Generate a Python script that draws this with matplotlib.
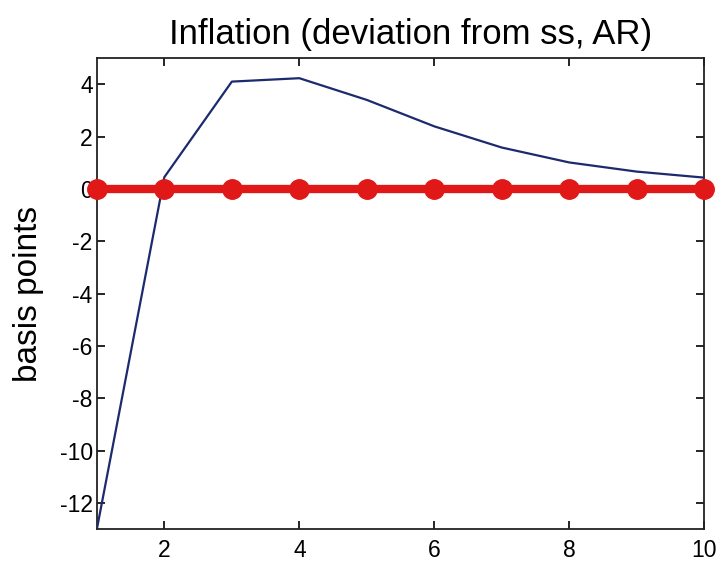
import matplotlib
matplotlib.use("Agg")
import matplotlib.pyplot as plt
import numpy as np

# impulse response, quarters 1..10
periods = [1, 2, 3, 4, 5, 6, 7, 8, 9, 10]
inflation = [-13.0, 0.45, 4.1, 4.23, 3.4, 2.39, 1.58, 1.01, 0.66, 0.43]
steady = [0, 0, 0, 0, 0, 0, 0, 0, 0, 0]

xticks = [2, 4, 6, 8, 10]
yticks = [-12, -10, -8, -6, -4, -2, 0, 2, 4]

plt.rcParams['font.family'] = ['Liberation Sans', 'DejaVu Sans']
plt.rcParams['axes.unicode_minus'] = False

fig = plt.figure(figsize=(7.23, 5.62), dpi=100)
ax = fig.add_axes([0.134, 0.0587, 0.84, 0.838])

ax.plot(periods, inflation, color='#1c2a6e', lw=1.6, zorder=3)
ax.plot(periods, steady, color='#e01818', lw=6, marker='o', ms=14,
        clip_on=False, zorder=4)

ax.set_xlim(1, 10)
ax.set_ylim(-13, 5)
ax.set_xticks(xticks)
ax.set_yticks(yticks)
ax.tick_params(direction='in', top=True, right=True, length=6, width=1.2,
               labelsize=16.5)
ax.tick_params(axis='x', pad=7)
ax.tick_params(axis='y', pad=3)
for s in ax.spines.values():
    s.set_linewidth(1.3)
    s.set_color('#222222')

ax.set_title('Inflation (deviation from ss, AR)', fontsize=25, pad=10, x=0.517)
ax.set_ylabel('basis points', fontsize=24, labelpad=11)

fig.savefig('out.png', dpi=100)
